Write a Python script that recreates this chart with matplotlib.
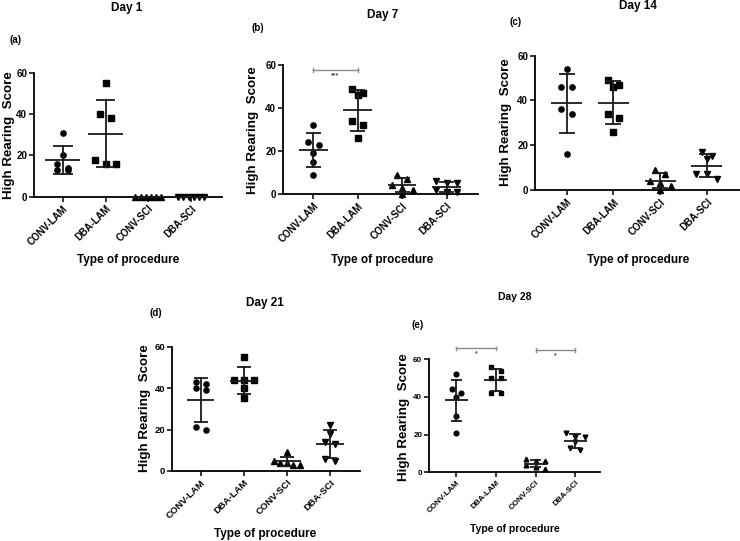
import numpy as np
import matplotlib
matplotlib.use("Agg")
import matplotlib.pyplot as plt

plt.rcParams['font.family'] = ['Liberation Sans', 'DejaVu Sans']
plt.rcParams['font.weight'] = 'bold'

# ---------------- data ----------------
categories = ['CONV-LAM', 'DBA-LAM', 'CONV-SCI', 'DBA-SCI']
days = ['Day 1', 'Day 7', 'Day 14', 'Day 21', 'Day 28']
panel_letters = ['(a)', '(b)', '(c)', '(d)', '(e)']

day1_conv_lam = [31, 20, 16, 14, 13, 13]
day1_dba_lam = [55, 40, 38, 18, 16, 16]
day1_conv_sci = [0, 0, 0, 0, 0, 0]
day1_dba_sci = [0, 0, 0, 0, 0, 0]

day7_conv_lam = [32, 24, 23, 19, 15, 9]
day7_dba_lam = [49, 47, 46, 34, 32, 26]
day7_conv_sci = [9, 7, 4, 3, 2, 0]
day7_dba_sci = [6, 5, 5, 2, 1, 1]

day14_conv_lam = [54, 46, 46, 36, 34, 16]
day14_dba_lam = [49, 47, 46, 34, 32, 26]
day14_conv_sci = [9, 7, 4, 3, 2, 0]
day14_dba_sci = [17, 15, 14, 7, 7, 5]

day21_conv_lam = [43, 42, 40, 39, 21, 20]
day21_dba_lam = [55, 44, 44, 44, 40, 35]
day21_conv_sci = [9, 5, 4, 4, 3, 3]
day21_dba_sci = [22, 18, 14, 13, 6, 5]

day28_conv_lam = [52, 44, 42, 40, 30, 21]
day28_dba_lam = [56, 54, 50, 50, 42, 42]
day28_conv_sci = [7, 6, 6, 4, 3, 2]
day28_dba_sci = [21, 19, 19, 16, 13, 12]

day_data = [
    [day1_conv_lam, day1_dba_lam, day1_conv_sci, day1_dba_sci],
    [day7_conv_lam, day7_dba_lam, day7_conv_sci, day7_dba_sci],
    [day14_conv_lam, day14_dba_lam, day14_conv_sci, day14_dba_sci],
    [day21_conv_lam, day21_dba_lam, day21_conv_sci, day21_dba_sci],
    [day28_conv_lam, day28_dba_lam, day28_conv_sci, day28_dba_sci],
]

y_ticks = [0, 20, 40, 60]
significance = [
    [],
    [(0, 1, '***')],
    [],
    [],
    [(0, 1, '*'), (2, 3, '*')],
]

# ---------------- layout (pixels) ----------------
W, H = 740, 541
markers = ['o', 's', '^', 'v']

panels = [
    dict(l=34, r=222, t=73, b=196.7, first=62.7, step=42.8,
         title=(127, 8), letter=(10, 40), ylab=(9, 135), xlab=(128, 260),
         fs_tick=7, fs_lab=9.6, fs_title=8.5, fs_xlab=8.5, ms=3.8, mean_w=0.82, cap_w=0.46,
         bracket_y=[]),
    dict(l=283, r=478, t=65, b=194, first=313.3, step=44.4,
         title=(383, 15), letter=(252, 28), ylab=(253, 130), xlab=(382, 260),
         fs_tick=7, fs_lab=9.6, fs_title=8.5, fs_xlab=8.5, ms=3.8, mean_w=0.64, cap_w=0.34,
         bracket_y=[57.7]),
    dict(l=535, r=740, t=55.7, b=190, first=566.7, step=46.7,
         title=(638, 6), letter=(510, 22), ylab=(506, 122), xlab=(638, 260),
         fs_tick=7, fs_lab=9.6, fs_title=8.5, fs_xlab=8.5, ms=3.8, mean_w=0.66, cap_w=0.34,
         bracket_y=[]),
    dict(l=172.3, r=360, t=346.7, b=471, first=200.7, step=43.1,
         title=(265, 303), letter=(150, 313), ylab=(145, 408), xlab=(265, 534),
         fs_tick=6.8, fs_lab=9.6, fs_title=8.5, fs_xlab=8.5, ms=3.7, mean_w=0.64, cap_w=0.33,
         bracket_y=[]),
    dict(l=429.3, r=600, t=359.3, b=472.3, first=456.3, step=39.6,
         title=(515, 297), letter=(411, 325), ylab=(404, 417), xlab=(515, 529),
         fs_tick=5.8, fs_lab=9.6, fs_title=7.5, fs_xlab=7.5, ms=3.4, mean_w=0.58, cap_w=0.29,
         bracket_y=[65.8, 65.0]),
]


def swarm_offsets(vals, d_px, px_per_unit_y, px_per_cat):
    """Row-based spread: values closer than one marker height share a row."""
    order = sorted(range(len(vals)), key=lambda i: -vals[i])
    rows = []
    for i in order:
        if rows and (vals[rows[-1][0]] - vals[i]) * px_per_unit_y < d_px * 1.15:
            rows[-1].append(i)
        else:
            rows.append([i])
    offs = [0.0] * len(vals)
    maxw = 0.6 * px_per_cat
    for row in rows:
        n = len(row)
        if n == 1:
            continue
        sp = min(2.0 * d_px, maxw / (n - 1))
        for k, i in enumerate(row):
            offs[i] = (k - (n - 1) / 2) * sp / px_per_cat
    return offs


fig = plt.figure(figsize=(W / 100, H / 100), dpi=100)


def fx(x):
    return x / W


def fy(y):
    return 1 - y / H


for p, day, letter, groups, sig in zip(panels, days, panel_letters, day_data, significance):
    ax = fig.add_axes([p['l'] / W, 1 - p['b'] / H, (p['r'] - p['l']) / W, (p['b'] - p['t']) / H])
    step = p['step']
    x0 = -(p['first'] - p['l']) / step
    x1 = (p['r'] - p['first']) / step
    ax.set_xlim(x0, x1)
    ax.set_ylim(0, 60)
    ppu = (p['b'] - p['t']) / 60.0
    dmark = p['ms'] * 1.389
    for gi, vals in enumerate(groups):
        vals = np.array(vals, dtype=float)
        offs = swarm_offsets(list(vals), dmark, ppu, step)
        ax.plot(gi + np.array(offs), vals, linestyle='none', marker=markers[gi],
                ms=p['ms'], color='black', clip_on=False, zorder=3)
        m = vals.mean()
        sd = vals.std(ddof=1)
        ax.plot([gi - p['mean_w'] / 2, gi + p['mean_w'] / 2], [m, m], color='#1a1a1a', lw=1.3,
                clip_on=False, zorder=4, solid_capstyle='butt')
        ax.plot([gi, gi], [m - sd, m + sd], color='#1a1a1a', lw=1.3, clip_on=False, zorder=4)
        for yy in (m - sd, m + sd):
            ax.plot([gi - p['cap_w'] / 2, gi + p['cap_w'] / 2], [yy, yy], color='#1a1a1a', lw=1.3,
                    clip_on=False, zorder=4, solid_capstyle='butt')
    for (a, b, txt), by in zip(sig, p['bracket_y']):
        ax.plot([a, b], [by, by], color='#8a8a8a', lw=1.0, clip_on=False)
        for xx in (a, b):
            ax.plot([xx, xx], [by - 0.9, by + 0.9], color='#8a8a8a', lw=1.0, clip_on=False)
        ax.text((a + b) / 2, by - 1.0, txt, ha='center', va='top', fontsize=5, color='#444444')

    ax.set_xticks(range(len(categories)))
    ax.set_xticklabels(categories, rotation=45, ha='right', rotation_mode='anchor',
                       fontsize=p['fs_tick'], fontweight='bold')
    ax.set_yticks(y_ticks)
    ax.set_yticklabels([str(t) for t in y_ticks], fontsize=p['fs_tick'], fontweight='bold')
    for s in ('top', 'right'):
        ax.spines[s].set_visible(False)
    for s in ('left', 'bottom'):
        ax.spines[s].set_linewidth(1.3)
    ax.tick_params(axis='both', length=3.5, width=1.1, pad=1.5)
    ax.patch.set_alpha(0)

    fig.text(fx(p['title'][0]), fy(p['title'][1]), day, ha='center', va='center',
             fontsize=p['fs_title'], fontweight='bold')
    fig.text(fx(p['letter'][0]), fy(p['letter'][1]), letter, ha='left', va='center',
             fontsize=7, fontweight='bold')
    fig.text(fx(p['ylab'][0]), fy(p['ylab'][1]), 'High Rearing  Score', ha='center', va='center',
             rotation=90, fontsize=p['fs_lab'], fontweight='bold')
    fig.text(fx(p['xlab'][0]), fy(p['xlab'][1]), 'Type of procedure', ha='center', va='center',
             fontsize=p['fs_xlab'], fontweight='bold')

fig.savefig('out.png', dpi=100, facecolor='white')
